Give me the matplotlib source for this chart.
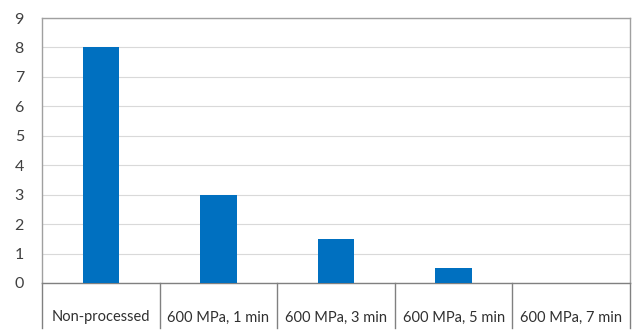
import matplotlib
matplotlib.use("Agg")
import matplotlib.pyplot as plt
import numpy as np

categories = ["Non-processed", "600 MPa, 1 min", "600 MPa, 3 min",
              "600 MPa, 5 min", "600 MPa, 7 min"]
values = [8, 3, 1.5, 0.5, 0]

plt.rcParams['font.family'] = ['Lato', 'DejaVu Sans']

fig = plt.figure(figsize=(6.4, 3.31), dpi=100)
ax = fig.add_axes([42/640, 1 - 283/331, (630-42)/640, (283-18)/331])

x = np.arange(len(categories))
ax.bar(x, values, width=0.31, color="#0070C0", zorder=3)

ax.set_xlim(-0.5, len(categories) - 0.5)
ax.set_ylim(0, 9)
ax.set_yticks(range(0, 10))
ax.yaxis.grid(True, color="#d9d9d9", linewidth=0.8, zorder=0)
ax.set_xticks([])

for side in ["left", "top", "right"]:
    ax.spines[side].set_color("#a0a0a0")
    ax.spines[side].set_linewidth(1.0)
ax.spines["bottom"].set_color("#808080")
ax.spines["bottom"].set_linewidth(1.0)

ax.tick_params(axis="y", length=0, pad=13, labelsize=11.5, labelcolor="#404040")

# category separators below the axis
trans = ax.get_xaxis_transform()
for b in np.arange(-0.5, len(categories) + 0.5, 1.0):
    ax.plot([b, b], [0, -0.17], transform=trans, color="#808080",
            linewidth=1.0, clip_on=False)

for i, lab in enumerate(categories):
    ax.text(i, -0.13, lab, transform=trans, ha="center", va="center",
            fontsize=10.5, color="#303030")

fig.savefig("out.png", dpi=100)
